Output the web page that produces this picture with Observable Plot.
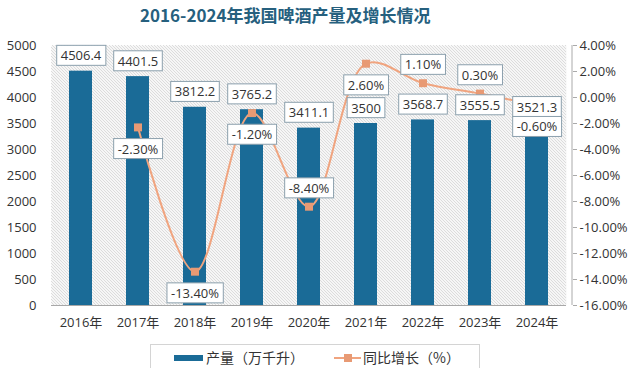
<!DOCTYPE html>
<html><head><meta charset="utf-8">
<script src="https://cdn.jsdelivr.net/npm/d3@7"></script>
<script src="https://cdn.jsdelivr.net/npm/@observablehq/plot@0.6"></script>
<style>
body{margin:0;background:#fff;width:635px;height:368px;overflow:hidden;position:relative;font-family:"Open Sans","Noto Sans CJK SC",sans-serif;}
#title{height:30px;line-height:30px;padding-left:140px;font-size:17px;font-weight:bold;color:#26607e;font-family:"Noto Sans CJK SC",sans-serif;white-space:nowrap;}
#chart{height:308px;}
#legend{position:absolute;left:150px;top:344px;width:330px;height:30px;border:1px solid #d4d4d4;box-sizing:border-box;font-family:"Noto Sans CJK SC",sans-serif;font-size:14px;color:#333;}
#legend .sw1{position:absolute;left:23px;top:10px;width:29px;height:6px;background:#1a6b97;}
#legend .t1{position:absolute;left:55px;top:1px;line-height:22px;}
#legend .sw2{position:absolute;left:183px;top:12px;width:27px;height:2px;background:#f0a47f;}
#legend .mk{position:absolute;left:193px;top:9px;width:8px;height:8px;background:#e89a74;}
#legend .t2{position:absolute;left:212px;top:1px;line-height:22px;}
</style></head><body>
<div id="title">2016-2024年我国啤酒产量及增长情况</div>
<div id="chart"></div>
<div id="legend"><span class="sw1"></span><span class="t1">产量（万千升）</span><span class="sw2"></span><span class="mk"></span><span class="t2">同比增长（%）</span></div>
<script>
const years = ["2016年","2017年","2018年","2019年","2020年","2021年","2022年","2023年","2024年"];
const output = [4506.4, 4401.5, 3812.2, 3765.2, 3411.1, 3500, 3568.7, 3555.5, 3521.3];
const outputLabels = ["4506.4","4401.5","3812.2","3765.2","3411.1","3500","3568.7","3555.5","3521.3"];
const growthYears = ["2017年","2018年","2019年","2020年","2021年","2022年","2023年","2024年"];
const growth = [-2.3, -13.4, -1.2, -8.4, 2.6, 1.1, 0.3, -0.6];
const leftTicks = [0, 500, 1000, 1500, 2000, 2500, 3000, 3500, 4000, 4500, 5000];
const rightTicks = [-16, -14, -12, -10, -8, -6, -4, -2, 0, 2, 4];

const pMin = -16, pMax = 4, yMax = 5000;
const pToY = p => (p - pMin) / (pMax - pMin) * yMax;

const bars = years.map((y, i) => ({year: y, value: output[i], label: outputLabels[i]}));
const pts = growthYears.map((y, i) => ({year: y, p: growth[i], v: pToY(growth[i]), label: growth[i].toFixed(2) + "%"}));
const aboveSet = new Set(["2020年", "2022年", "2023年"]);

const svg = Plot.plot({
  width: 635, height: 308,
  marginLeft: 51, marginRight: 69, marginTop: 15, marginBottom: 33,
  style: {fontFamily: "'Open Sans','Noto Sans CJK SC',sans-serif", fontSize: "13px", color: "#333", background: "transparent", overflow: "visible"},
  x: {type: "band", domain: years, paddingInner: 0.6, paddingOuter: 0.3, label: null},
  y: {domain: [0, yMax], label: null},
  marks: [
    Plot.frame({fill: "#f6f6f6", stroke: "none"}),
    Plot.barY(bars, {x: "year", y: "value", fill: "#1a6b97"}),
    Plot.ruleY([0], {stroke: "#a8a8a8"}),
    Plot.axisY(leftTicks, {anchor: "left", tickSize: 0, tickPadding: 15, fontSize: 13, tickFormat: d3.format("d")}),
    Plot.axisY(rightTicks.map(pToY), {anchor: "right", tickSize: 4, tickPadding: 3, dx: 6, stroke: "#aaa", fontSize: 13,
      tickFormat: v => (v / yMax * (pMax - pMin) + pMin).toFixed(2) + "%"}),
    Plot.axisX({tickSize: 0, tickPadding: 12, fontSize: 13}),
    Plot.line(pts, {x: "year", y: "v", curve: "catmull-rom", stroke: "#f0a47f", strokeWidth: 2}),
    Plot.dot(pts, {x: "year", y: "v", symbol: "square", r: 4.5, fill: "#e89a74", stroke: "none"}),
    Plot.text(bars, {x: "year", y: "value", text: "label", dy: -15, fontSize: 13, fill: "#333"}),
    Plot.text(pts.filter(d => !aboveSet.has(d.year)), {x: "year", y: "v", text: "label", dy: 22, fontSize: 13, fill: "#333"}),
    Plot.text(pts.filter(d => aboveSet.has(d.year)), {x: "year", y: "v", text: "label", dy: -18, fontSize: 13, fill: "#333"})
  ]
});
document.getElementById("chart").append(svg);

const ns = "http://www.w3.org/2000/svg";
const xr = svg.scale("x").range, yr = svg.scale("y").range;
const X0 = Math.min(...xr), X1 = Math.max(...xr), Y0 = Math.min(...yr), Y1 = Math.max(...yr);

// diagonal hatch lines inside the plot area
let d = "";
const step = 3;
for (let c = X0 - (Y1 - Y0); c <= X1; c += step) {
  let ya = Y0, xa = c;
  if (xa < X0) { ya = Y0 + (X0 - c); xa = X0; }
  let yb = Y1, xb = c + (Y1 - Y0);
  if (xb > X1) { yb = Y0 + (X1 - c); xb = X1; }
  if (ya < yb) d += `M${xa.toFixed(2)},${ya.toFixed(2)}L${xb.toFixed(2)},${yb.toFixed(2)}`;
}
const hp = document.createElementNS(ns, "path");
hp.setAttribute("d", d); hp.setAttribute("stroke", "#d6d6d6"); hp.setAttribute("stroke-width", "0.8"); hp.setAttribute("fill", "none");
const fr = svg.querySelector('[aria-label="frame"]');
if (fr && fr.nextSibling) svg.insertBefore(hp, fr.nextSibling); else svg.insertBefore(hp, svg.firstChild);

// right axis line
const ln = document.createElementNS(ns, "line");
ln.setAttribute("x1", X1 + 6); ln.setAttribute("x2", X1 + 6); ln.setAttribute("y1", Y0); ln.setAttribute("y2", Y1);
ln.setAttribute("stroke", "#aaa");
svg.appendChild(ln);

// boxes behind labels
svg.querySelectorAll('g[aria-label="text"] text').forEach(t => {
  const b = t.getBBox();
  const r = document.createElementNS(ns, "rect");
  r.setAttribute("x", b.x - 4); r.setAttribute("y", b.y - 1);
  r.setAttribute("width", b.width + 8); r.setAttribute("height", b.height + 2);
  r.setAttribute("fill", "#fff"); r.setAttribute("stroke", "#8ca0ad"); r.setAttribute("stroke-width", "1");
  if (t.getAttribute("transform")) r.setAttribute("transform", t.getAttribute("transform"));
  t.parentNode.insertBefore(r, t);
});
</script>
</body></html>
